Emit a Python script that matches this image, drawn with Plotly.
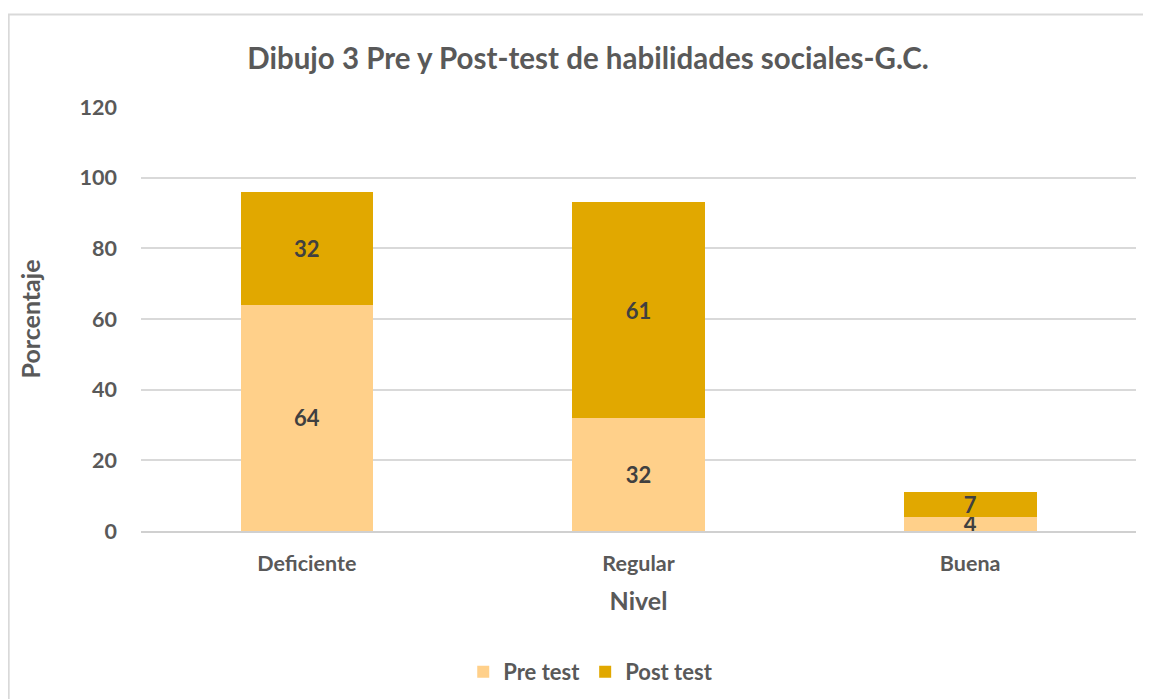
import plotly.graph_objects as go

# ── Data ──────────────────────────────────────────────────────────────────────
categories = ["Deficiente", "Regular", "Buena"]
pre_test = [64, 32, 4]
post_test = [32, 61, 7]
y_ticks = [0, 20, 40, 60, 80, 100, 120]

FONT = "Lato, 'Open Sans', sans-serif"
GREY = "#595959"
LABEL = "#404040"

fig = go.Figure()

fig.add_trace(go.Bar(
    x=categories, y=pre_test, name="Pre test",
    marker=dict(color="#FFD08A", line=dict(width=0)),
    text=pre_test, textposition="inside", insidetextanchor="middle", textangle=0,
    constraintext="none",
    textfont=dict(family=FONT, size=22, color=LABEL, weight="bold"),
))
fig.add_trace(go.Bar(
    x=categories, y=post_test, name="Post test",
    marker=dict(color="#E1A800", line=dict(width=0)),
    text=post_test, textposition="inside", insidetextanchor="middle", textangle=0,
    constraintext="none",
    textfont=dict(family=FONT, size=22, color=LABEL, weight="bold"),
))

# outer chart border (in plot-area paper coords)
fig.add_shape(
    type="rect", xref="paper", yref="paper",
    x0=-0.133, x1=1.05, y0=-0.5, y1=1.218,
    line=dict(color="#d9d9d9", width=2), layer="below",
)

# the page body adds an 8px offset, so margins are shifted accordingly
fig.update_layout(
    width=1151, height=699,
    barmode="stack", bargap=0.6,
    paper_bgcolor="white", plot_bgcolor="white",
    font=dict(family=FONT, color=GREY, size=21),
    title=dict(
        text="<b>Dibujo 3 Pre y Post-test de habilidades sociales-G.C.</b>",
        font=dict(size=29.5, color=GREY, family=FONT),
        x=0.504, xanchor="center", xref="container",
        y=0.928, yanchor="middle", yref="container",
    ),
    margin=dict(l=133, r=23, t=99, b=176),
    xaxis=dict(
        title=dict(text="<b>Nivel</b>", font=dict(size=25, color=GREY), standoff=18),
        tickfont=dict(size=21.5, color=GREY, weight="bold"),
        showline=True, linecolor="#d0d0d0", linewidth=1.5,
        ticks="", ticklabelstandoff=12,
    ),
    yaxis=dict(
        title=dict(text="<b>Porcentaje</b>", font=dict(size=25, color=GREY), standoff=31),
        range=[0, 120], tickvals=y_ticks,
        tickfont=dict(size=21.5, color=GREY, weight="bold"),
        gridcolor="#d9d9d9", gridwidth=1.5,
        zeroline=False, ticks="", ticklabelstandoff=23,
    ),
    legend=dict(
        orientation="h", x=0.452, xanchor="center",
        y=-0.3325, yanchor="middle",
        font=dict(size=22, color=GREY, weight="bold"),
        itemwidth=30, traceorder="normal",
    ),
)

fig.write_html("out.html")
